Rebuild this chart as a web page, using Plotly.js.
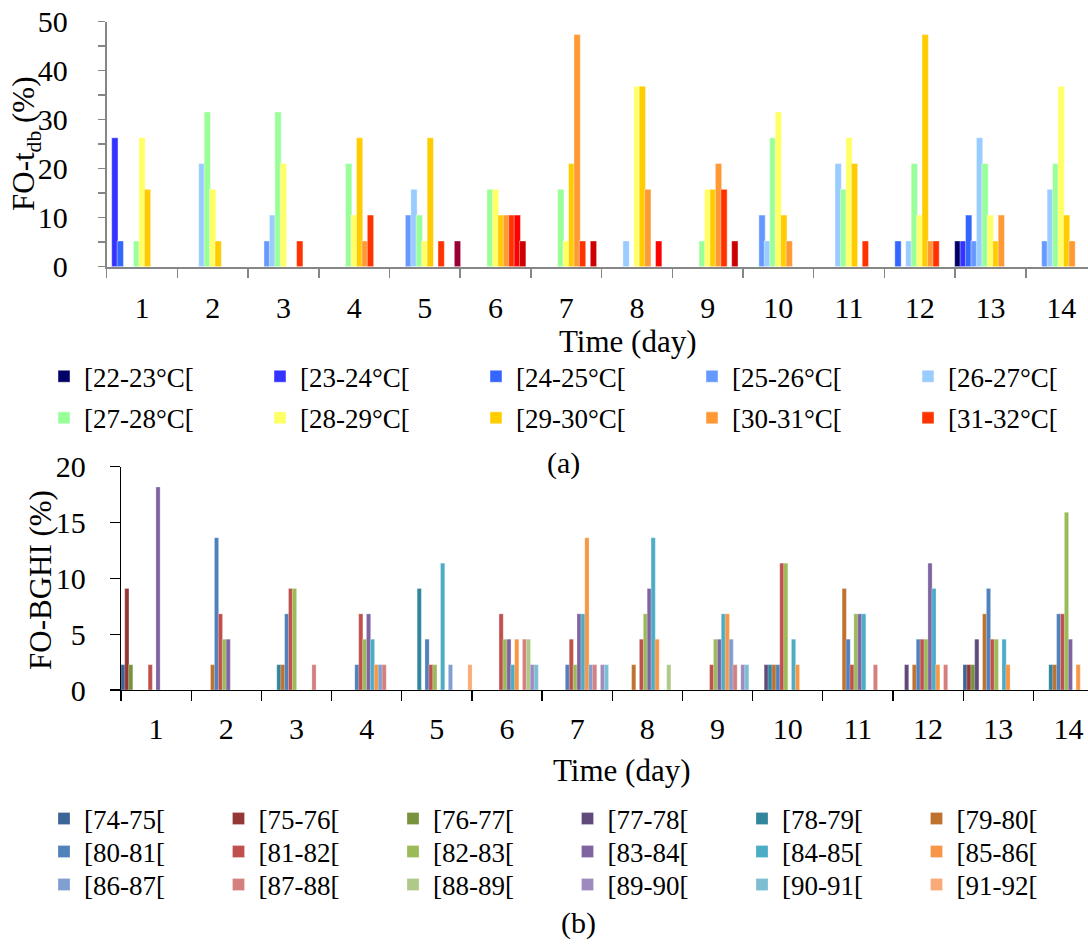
<!DOCTYPE html>
<html>
<head>
<meta charset="utf-8">
<script src="https://cdn.plot.ly/plotly-3.0.1.min.js"></script>
<style>html,body{margin:0;padding:0;background:#fff;}#chart{width:1088px;height:944px;}</style>
</head>
<body>
<div id="chart"></div>
<script>
const N = null;
// ---------- data ----------
const days = ['1','2','3','4','5','6','7','8','9','10','11','12','13','14'];

// (a) FO-tdb (%) per temperature class
const tdbLabels = ['[22-23°C[','[23-24°C[','[24-25°C[','[25-26°C[','[26-27°C[',
                   '[27-28°C[','[28-29°C[','[29-30°C[','[30-31°C[','[31-32°C[',
                   '[32-33°C[','[33-34°C[','[34-35°C['];
const t22_23 = [N,N,N,N,N,N,N,N,N,N,N,N,5.26,N];
const t23_24 = [26.32,N,N,N,N,N,N,N,N,N,N,N,5.26,N];
const t24_25 = [5.26,N,N,N,N,N,N,N,N,N,N,5.26,10.53,N];
const t25_26 = [N,N,5.26,N,10.53,N,N,N,N,10.53,N,N,5.26,5.26];
const t26_27 = [N,21.05,10.53,N,15.79,N,N,5.26,N,5.26,21.05,5.26,26.32,15.79];
const t27_28 = [5.26,31.58,31.58,21.05,10.53,15.79,15.79,N,5.26,26.32,15.79,21.05,21.05,21.05];
const t28_29 = [26.32,15.79,21.05,10.53,5.26,15.79,5.26,36.84,15.79,31.58,26.32,10.53,10.53,36.84];
const t29_30 = [15.79,5.26,N,26.32,26.32,10.53,21.05,36.84,15.79,10.53,21.05,47.37,5.26,10.53];
const t30_31 = [N,N,N,5.26,N,10.53,47.37,15.79,21.05,5.26,N,5.26,10.53,5.26];
const t31_32 = [N,N,5.26,10.53,5.26,10.53,5.26,N,15.79,N,5.26,5.26,N,N];
const t32_33 = [N,N,N,N,N,10.53,N,5.26,N,N,N,N,N,N];
const t33_34 = [N,N,N,N,N,5.26,5.26,N,5.26,N,N,N,N,N];
const t34_35 = [N,N,N,N,5.26,N,N,N,N,N,N,N,N,N];
const tdbSeries = [t22_23,t23_24,t24_25,t25_26,t26_27,t27_28,t28_29,t29_30,t30_31,t31_32,t32_33,t33_34,t34_35];

// (b) FO-BGHI (%) per BGHI class
const bghiLabels = ['[74-75[','[75-76[','[76-77[','[77-78[','[78-79[','[79-80[',
                    '[80-81[','[81-82[','[82-83[','[83-84[','[84-85[','[85-86[',
                    '[86-87[','[87-88[','[88-89[','[89-90[','[90-91[','[91-92['];
const g74_75 = [2.27,N,N,N,N,N,N,N,N,N,N,N,2.27,N];
const g75_76 = [9.09,N,N,N,N,N,N,N,N,N,N,N,2.27,N];
const g76_77 = [2.27,N,N,N,N,N,N,N,N,N,N,N,2.27,N];
const g77_78 = [N,N,N,N,N,N,N,N,N,2.27,N,2.27,4.55,N];
const g78_79 = [N,N,2.27,N,9.09,N,N,N,N,2.27,N,N,N,2.27];
const g79_80 = [N,2.27,2.27,N,N,N,N,2.27,N,2.27,9.09,2.27,6.82,2.27];
const g80_81 = [N,13.64,6.82,2.27,4.55,N,2.27,N,N,2.27,4.55,4.55,9.09,6.82];
const g81_82 = [2.27,6.82,9.09,6.82,2.27,6.82,4.55,4.55,2.27,11.36,2.27,4.55,4.55,6.82];
const g82_83 = [N,4.55,9.09,4.55,2.27,4.55,2.27,6.82,4.55,11.36,6.82,4.55,4.55,15.91];
const g83_84 = [18.18,4.55,N,6.82,N,4.55,6.82,9.09,4.55,N,6.82,11.36,N,4.55];
const g84_85 = [N,N,N,4.55,11.36,2.27,6.82,13.64,6.82,4.55,6.82,9.09,4.55,N];
const g85_86 = [N,N,N,2.27,N,4.55,13.64,4.55,6.82,2.27,N,2.27,2.27,2.27];
const g86_87 = [N,N,N,2.27,2.27,N,2.27,N,4.55,N,N,N,N,N];
const g87_88 = [N,N,2.27,2.27,N,4.55,2.27,N,2.27,N,2.27,2.27,N,N];
const g88_89 = [N,N,N,N,N,4.55,N,2.27,N,N,N,N,N,N];
const g89_90 = [N,N,N,N,N,2.27,2.27,N,2.27,N,N,N,N,N];
const g90_91 = [N,N,N,N,N,2.27,2.27,N,2.27,N,N,N,N,N];
const g91_92 = [N,N,N,N,2.27,N,N,N,N,N,N,N,N,N];
const bghiSeries = [g74_75,g75_76,g76_77,g77_78,g78_79,g79_80,g80_81,g81_82,g82_83,
                    g83_84,g84_85,g85_86,g86_87,g87_88,g88_89,g89_90,g90_91,g91_92];

const yTickA = [0,10,20,30,40,50];
const yTickB = [0,5,10,15,20];

// ---------- styles ----------
const tdbColors = ['#000066','#3333FF','#3366FF','#6699FF','#99CCFF','#99FF99','#FFFF66',
                   '#FFCC00','#FF9933','#FF3300','#FF0000','#CC0000','#990033'];
const bghiColors = ['#3C6496','#953735','#77933C','#604A7B','#31859C','#C0712E',
                    '#4F81BD','#C0504D','#9BBB59','#8064A2','#4BACC6','#F79646',
                    '#7F9ED2','#D4807E','#AEC988','#9E8ABE','#7DBED4','#F9AA76'];
const FONT = 'Liberation Serif, Times New Roman, serif';
const W = 1088, H = 944;
const px = v => v / W;
const py = v => 1 - v / H;

const traces = [];
tdbSeries.forEach((vals, i) => {
  traces.push({
    type: 'bar', x: days, y: vals, name: tdbLabels[i],
    xaxis: 'x', yaxis: 'y',
    width: 0.09,
    marker: {color: tdbColors[i], line: {color: 'rgba(255,255,255,0.55)', width: 0.8}},
    showlegend: i < 10,
    legend: i < 5 ? 'legend' : 'legend2',
    legendwidth: (i === 4 || i === 9) ? 130 : 171,
    hoverinfo: 'x+y+name'
  });
});
bghiSeries.forEach((vals, i) => {
  traces.push({
    type: 'bar', x: days, y: vals, name: bghiLabels[i],
    xaxis: 'x2', yaxis: 'y2',
    width: 0.06,
    marker: {color: bghiColors[i], line: {color: 'rgba(255,255,255,0.5)', width: 0.5}},
    showlegend: true,
    legend: i < 6 ? 'legend3' : (i < 12 ? 'legend4' : 'legend5'),
    legendwidth: (i % 6 === 5) ? 100 : 129.5,
    hoverinfo: 'x+y+name'
  });
});

const gray = '#868686';
function legendRow(yPix) {
  return {
    orientation: 'h', x: px(44), xanchor: 'left', y: py(yPix), yanchor: 'middle',
    traceorder: 'normal',
    font: {family: FONT, size: 27, color: '#000'},
    bgcolor: 'rgba(0,0,0,0)', borderwidth: 0
  };
}

const layout = {
  width: W, height: H,
  margin: {l: 0, r: 0, t: 0, b: 0, pad: 0},
  paper_bgcolor: '#fff', plot_bgcolor: '#fff',
  font: {family: FONT, size: 30, color: '#000'},
  barmode: 'group', bargap: 0, bargroupgap: 0,
  showlegend: true,
  xaxis: {
    domain: [px(106.7), 1], type: 'category', anchor: 'y',
    range: [-0.5, -0.5 + (W - 106.7) / 70.7],
    tickson: 'boundaries', ticks: 'outside', ticklen: 9, tickwidth: 1.5, tickcolor: gray,
    showline: true, linecolor: gray, linewidth: 2,
    showgrid: false, zeroline: false,
    tickfont: {family: FONT, size: 30, color: '#000'}, ticklabelstandoff: 13
  },
  yaxis: {
    domain: [py(266.7), py(21.7)], anchor: 'x',
    range: [0, 50], tickvals: yTickA, ticks: 'outside', ticklen: 7, tickwidth: 1.5, tickcolor: gray,
    minor: {dtick: 5, ticks: 'outside', ticklen: 7, tickwidth: 1.5, tickcolor: gray, showgrid: false},
    showline: true, linecolor: gray, linewidth: 2,
    showgrid: false, zeroline: false,
    tickfont: {family: FONT, size: 30, color: '#000'}, ticklabelstandoff: 24
  },
  xaxis2: {
    domain: [px(121), 1], type: 'category', anchor: 'y2',
    range: [-0.5, -0.5 + (W - 121) / 70.18],
    tickson: 'boundaries', ticks: 'outside', ticklen: 10, tickwidth: 1.2, tickcolor: '#000',
    showline: true, linecolor: '#000', linewidth: 1.3,
    showgrid: false, zeroline: false,
    tickfont: {family: FONT, size: 30, color: '#000'}, ticklabelstandoff: 12
  },
  yaxis2: {
    domain: [py(690), py(466.7)], anchor: 'x2',
    range: [0, 20], tickvals: yTickB, ticks: 'outside', ticklen: 10, tickwidth: 1.2, tickcolor: '#000',
    showline: true, linecolor: '#000', linewidth: 1.3,
    showgrid: false, zeroline: false,
    tickfont: {family: FONT, size: 30, color: '#000'}, ticklabelstandoff: 18
  },
  legend: legendRow(376.7),
  legend2: legendRow(418.3),
  legend3: legendRow(819),
  legend4: legendRow(852),
  legend5: legendRow(885),
  annotations: [
    {text: 'FO-t<sub>db</sub> (%)', x: px(26), y: py(144), xref: 'paper', yref: 'paper',
     textangle: -90, showarrow: false, xanchor: 'center', yanchor: 'middle',
     font: {family: FONT, size: 31, color: '#000'}},
    {text: 'Time (day)', x: px(628), y: py(341), xref: 'paper', yref: 'paper',
     showarrow: false, xanchor: 'center', yanchor: 'middle',
     font: {family: FONT, size: 31, color: '#000'}},
    {text: '(a)', x: px(563), y: py(463), xref: 'paper', yref: 'paper',
     showarrow: false, xanchor: 'center', yanchor: 'middle',
     font: {family: FONT, size: 30, color: '#000'}},
    {text: 'FO-BGHI (%)', x: px(40), y: py(580), xref: 'paper', yref: 'paper',
     textangle: -90, showarrow: false, xanchor: 'center', yanchor: 'middle',
     font: {family: FONT, size: 31, color: '#000'}},
    {text: 'Time (day)', x: px(622), y: py(770), xref: 'paper', yref: 'paper',
     showarrow: false, xanchor: 'center', yanchor: 'middle',
     font: {family: FONT, size: 31, color: '#000'}},
    {text: '(b)', x: px(578), y: py(923), xref: 'paper', yref: 'paper',
     showarrow: false, xanchor: 'center', yanchor: 'middle',
     font: {family: FONT, size: 30, color: '#000'}}
  ]
};

Plotly.newPlot('chart', traces, layout, {displayModeBar: false, staticPlot: true});
</script>
</body>
</html>
